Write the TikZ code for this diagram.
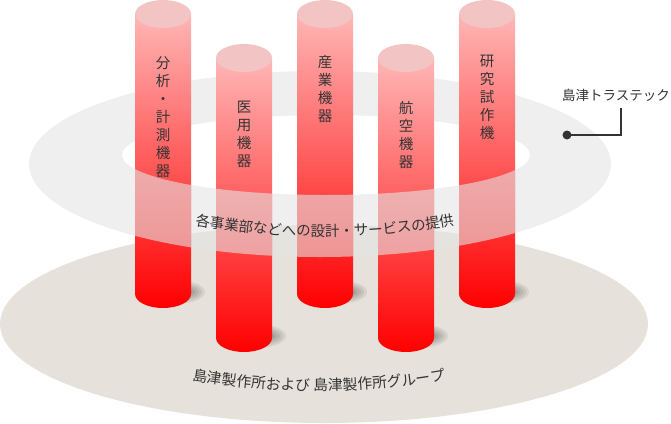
\documentclass[tikz,border=0pt]{standalone}
\usepackage{fontspec}
\newfontfamily\cjk{Noto Sans CJK JP}
\usetikzlibrary{decorations.text}
\definecolor{basecol}{RGB}{230,226,219}
\definecolor{ringcol}{RGB}{228,228,228}
\definecolor{pilltop}{RGB}{255,182,182}
\definecolor{pillbot}{RGB}{255,0,0}
\definecolor{capcol}{RGB}{242,196,196}
\definecolor{txt}{RGB}{51,51,51}
\newcommand{\drawpillar}[3]{%
  \foreach \k in {0,...,4}
    \fill[black, opacity=0.07] ({#1+12},{#3-2}) ellipse [x radius={30-3*\k}, y radius={12-2*\k}];
  \shade[top color=pilltop, bottom color=pillbot]
    ({#1-28},#2) -- ({#1-28},#3)
    .. controls ({#1-28},{#3+7.73}) and ({#1-15.46},{#3+14}) .. (#1,{#3+14})
    .. controls ({#1+15.46},{#3+14}) and ({#1+28},{#3+7.73}) .. ({#1+28},#3)
    -- ({#1+28},#2) -- cycle;
  \fill[capcol] (#1,#2) ellipse [x radius=28, y radius=14];
}
\begin{document}
\begin{tikzpicture}[x=1pt,y=-1pt,
  pilltext/.style={font=\cjk\fontsize{14.5}{18}\selectfont, text=txt, align=center, inner sep=0pt},
  ringfill/.style={fill=ringcol, opacity=0.6, even odd rule}]
\useasboundingbox (0,0) rectangle (671,423);
% base
\fill[basecol] (324,324) ellipse [x radius=324, y radius=99];
% ring (behind)
\path[ringfill] (320,164) ellipse [x radius=291, y radius=93] (326,155) ellipse [x radius=204, y radius=40];
% pillars
\drawpillar{163}{14}{294}
\drawpillar{244}{58}{338}
\drawpillar{325}{14}{294}
\drawpillar{406}{58}{338}
\drawpillar{487}{14}{294}
% ring front overlay on pillars
\begin{scope}
  \clip (135,0) rectangle (191,423) (216,0) rectangle (272,423) (297,0) rectangle (353,423)
        (378,0) rectangle (434,423) (459,0) rectangle (515,423);
  \clip (0,155) rectangle (671,423);
  \path[ringfill] (320,164) ellipse [x radius=291, y radius=93] (326,155) ellipse [x radius=204, y radius=40];
\end{scope}
% pillar labels
\node[pilltext] (p1) at (163,117.5) {分\\析\\・\\計\\測\\機\\器};
\node[pilltext] (p2) at (244,134.5) {医\\用\\機\\器};
\node[pilltext] (p3) at (325,89.5) {産\\業\\機\\器};
\node[pilltext] (p4) at (406,135) {航\\空\\機\\器};
\node[pilltext] (p5) at (487,97.5) {研\\究\\試\\作\\機};
% curved texts
\path[decorate, decoration={text along path, text color=txt, text align=center,
  text={|\cjk\fontsize{14.5}{16}\selectfont|各事業部などへの設計・サービスの提供}}]
  (184,223) .. controls (280,241) and (370,241) .. (466,223);
\path[decorate, decoration={text along path, text color=txt, text align=center,
  text={|\cjk\fontsize{14.8}{16}\selectfont|島津製作所および 島津製作所グループ}}]
  (184,379) .. controls (275,395) and (365,395) .. (454,378);
% callout
\node[circle, fill=txt, inner sep=0pt, minimum size=9pt] (dot) at (567,135) {};
\node[font=\cjk\fontsize{13.5}{15}\selectfont, text=txt, inner sep=0pt] (lbl) at (616,95) {島津トラステック};
\coordinate (lblfoot) at (621,108);
\draw[txt, line width=1.2pt] (dot.center) -| (lblfoot);
\end{tikzpicture}
\end{document}
